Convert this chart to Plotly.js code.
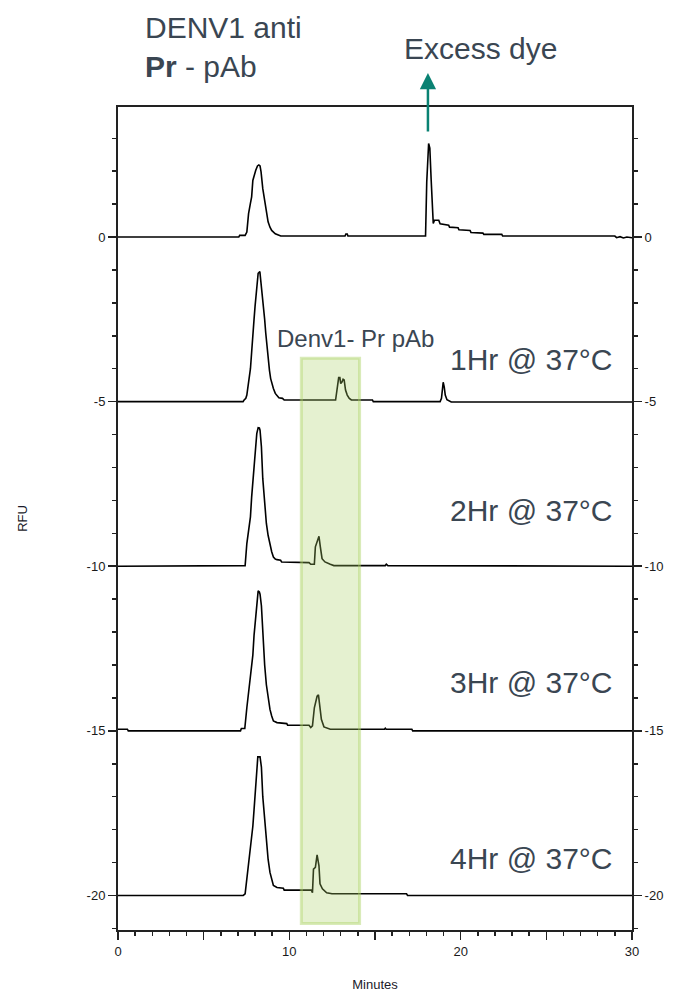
<!DOCTYPE html>
<html>
<head>
<meta charset="utf-8">
<script src="https://cdn.plot.ly/plotly-3.0.1.min.js"></script>
<style>html,body{margin:0;padding:0;background:#fff;}#chart{width:673px;height:992px;}</style>
</head>
<body>
<div id="chart"></div>
<script>
// ---- data ----
const traceNames = ["Control", "1Hr @ 37°C", "2Hr @ 37°C", "3Hr @ 37°C", "4Hr @ 37°C"];
const traceOffsets = [0, -5, -10, -15, -20];

const time0 = [0,7.05,7.1,7.38,7.42,7.52,7.62,7.72,7.8,7.87,7.95,8.04,8.14,8.22,8.29,8.35,8.45,8.56,8.66,8.76,8.87,8.97,9.18,9.38,9.5,13.25,13.3,13.38,13.42,17.95,18.02,18.13,18.2,18.28,18.34,18.4,18.47,18.72,18.8,19.3,19.35,19.85,19.9,20.55,20.6,21.3,21.35,22.4,22.45,29.0,29.1,29.3,29.5,29.7,30];
const rfu0  = [0,0,0.05,0.05,0.05,0.15,0.71,1.0,1.22,1.72,1.9,2.03,2.16,2.19,2.16,1.98,1.47,1.11,0.71,0.46,0.3,0.2,0.1,0.05,0.03,0.03,0.09,0.09,0.03,0.03,1.67,2.84,2.7,1.72,0.71,0.41,0.51,0.51,0.4,0.36,0.3,0.28,0.22,0.2,0.14,0.12,0.08,0.08,0.03,0.03,-0.02,0.01,-0.03,0.0,-0.02];

const time1 = [0,7.3,7.35,7.46,7.52,7.62,7.73,7.8,7.87,7.94,8.0,8.1,8.18,8.28,8.33,8.4,8.5,8.56,8.62,8.7,8.76,8.84,8.91,9.0,9.07,9.18,9.28,9.39,9.6,9.7,12.7,12.8,12.88,12.95,13.0,13.08,13.14,13.2,13.28,13.38,13.5,13.62,14.85,14.9,18.8,18.88,18.93,18.98,19.04,19.1,19.2,19.35,19.45,30];
const rfu1  = [0,0,0.04,0.1,0.2,0.6,1.0,1.5,1.9,2.5,2.9,3.5,3.9,3.95,3.7,3.5,3.0,2.5,2.1,1.6,1.3,0.95,0.7,0.5,0.4,0.25,0.2,0.12,0.1,0.05,0.05,0.45,0.73,0.73,0.55,0.6,0.68,0.66,0.35,0.2,0.1,0.05,0.05,0.0,0,0.1,0.45,0.59,0.45,0.2,0.06,0.02,-0.01,-0.01];

const time2 = [0,7.38,7.42,7.52,7.62,7.73,7.8,7.87,7.94,8.0,8.1,8.18,8.25,8.29,8.37,8.45,8.5,8.56,8.66,8.76,8.87,8.97,9.07,9.18,9.28,9.49,9.55,10.0,10.05,11.15,11.25,11.46,11.52,11.6,11.66,11.73,11.81,11.91,12.08,12.25,12.39,12.6,15.6,15.66,15.75,30];
const rfu2  = [0,0,0.02,0.69,1.1,1.5,2.1,2.5,3.0,3.47,4.03,4.21,4.2,4.13,3.63,2.66,2.3,1.9,1.3,0.94,0.64,0.44,0.28,0.22,0.2,0.18,0.13,0.13,0.11,0.11,0.06,0.06,0.59,0.7,0.84,0.91,0.59,0.23,0.13,0.08,0.06,0.02,0.02,0.06,0.02,0];

const time3 = [0,0.55,0.6,7.15,7.2,7.4,7.52,7.62,7.73,7.8,7.87,7.94,8.0,8.1,8.18,8.25,8.29,8.37,8.45,8.56,8.66,8.76,8.87,8.97,9.07,9.28,9.85,9.9,11.15,11.25,11.35,11.46,11.55,11.62,11.7,11.79,11.87,12.02,12.2,12.39,15.55,15.6,15.65,17.15,17.2,30];
const rfu3  = [0.05,0.05,0,0,0.07,0.07,0.7,1.2,1.7,2.0,2.3,2.9,3.3,4.0,4.25,4.22,4.15,3.8,2.9,2.0,1.4,1.0,0.65,0.45,0.3,0.25,0.22,0.17,0.17,0.1,0.15,0.7,0.9,1.05,1.09,0.75,0.35,0.12,0.08,0.05,0.05,0.08,0.05,0.05,0,0];

const time4 = [0,7.31,7.42,7.52,7.62,7.73,7.8,7.87,7.94,8.0,8.1,8.16,8.29,8.37,8.45,8.56,8.66,8.76,8.87,8.97,9.07,9.28,9.65,9.7,11.29,11.35,11.41,11.52,11.57,11.62,11.73,11.79,11.93,12.18,12.49,16.84,16.9,30];
const rfu4  = [0,0,0.05,0.5,1.1,1.6,1.9,2.1,2.6,3.0,3.9,4.21,4.21,3.9,3.0,2.3,1.6,1.1,0.7,0.45,0.3,0.24,0.22,0.16,0.16,0.08,0.8,0.85,1.0,1.23,0.9,0.35,0.2,0.08,0.05,0.05,0,0];

const xTickVals = [0, 5, 10, 15, 20, 25, 30];
const xTickText = ["0", "", "10", "", "20", "", "30"];
const yTickVals = [-20, -15, -10, -5, 0];
const yTickText = ["-20", "-15", "-10", "-5", "0"];

const highlightRange = {x0: 10.7, x1: 14.1, y0: -20.85, y1: -3.68};

// ---- build ----
const times = [time0, time1, time2, time3, time4];
const rfus = [rfu0, rfu1, rfu2, rfu3, rfu4];
const traces = times.map((t, i) => ({
  type: 'scatter', mode: 'lines', name: traceNames[i],
  x: t, y: rfus[i].map(v => v + traceOffsets[i]),
  line: {color: '#000', width: 1.6}, hoverinfo: 'skip', showlegend: false
}));
traces.push({type: 'scatter', mode: 'lines', x: [], y: [], yaxis: 'y2', showlegend: false, hoverinfo: 'skip'});

const tickFont = {family: 'Liberation Sans, Arial, sans-serif', size: 13, color: '#1a1a1a'};
const txtFont = (s) => ({family: 'Liberation Sans, Arial, sans-serif', size: s, color: '#3a4652'});
const axisCommon = {
  showgrid: false, zeroline: false, showline: true, linecolor: '#222', linewidth: 2,
  ticks: 'outside', ticklen: 8, tickwidth: 1.5, tickcolor: '#222', tickfont: tickFont,
};
const yRange = [-21.05, 3.95];

const layout = {
  width: 673, height: 992,
  margin: {l: 118, r: 41, t: 107, b: 62},
  paper_bgcolor: '#fff', plot_bgcolor: '#fff',
  showlegend: false,
  xaxis: Object.assign({}, axisCommon, {
    range: [0, 30], mirror: true, tickmode: 'array', tickvals: xTickVals, ticktext: xTickText,
    minor: {dtick: 1, ticklen: 4, tickwidth: 1.5, tickcolor: '#222', ticks: 'outside', showgrid: false},
    title: {text: 'Minutes', font: {family: 'Liberation Sans, Arial, sans-serif', size: 13, color: '#1a1a2a'}, standoff: 22}
  }),
  yaxis: Object.assign({}, axisCommon, {
    range: yRange, tickmode: 'array', tickvals: yTickVals, ticktext: yTickText,
    minor: {dtick: 1, ticklen: 4, tickwidth: 1.5, tickcolor: '#222', ticks: 'outside', showgrid: false},
    title: {text: 'RFU', font: {family: 'Liberation Sans, Arial, sans-serif', size: 13, color: '#1a1a2a'}, standoff: 56}
  }),
  yaxis2: Object.assign({}, axisCommon, {
    range: yRange, overlaying: 'y', side: 'right', tickmode: 'array', tickvals: yTickVals, ticktext: yTickText,
    minor: {dtick: 1, ticklen: 4, tickwidth: 1.5, tickcolor: '#222', ticks: 'outside', showgrid: false}
  }),
  shapes: [{
    type: 'rect', xref: 'x', yref: 'y', layer: 'above',
    x0: highlightRange.x0, x1: highlightRange.x1, y0: highlightRange.y0, y1: highlightRange.y1,
    fillcolor: 'rgba(170,210,100,0.3)', line: {color: 'rgba(170,210,100,0.45)', width: 3}
  }],
  annotations: [
    {xref: 'paper', yref: 'paper', x: 0.0486, y: 1.0735, xanchor: 'left', yanchor: 'middle', align: 'left',
     text: 'DENV1 anti<br><b>Pr</b> - pAb', showarrow: false, font: txtFont(30)},
    {xref: 'paper', yref: 'paper', x: 0.5525, y: 1.0711, xanchor: 'left', yanchor: 'middle',
     text: 'Excess dye', showarrow: false, font: txtFont(30)},
    {xref: 'x', yref: 'paper', x: 18.09, y: 1.0413, text: '', showarrow: true, arrowhead: 2,
     arrowsize: 1.3, arrowwidth: 2.5, arrowcolor: '#0a8273', ax: 0, ay: 60, standoff: 0},
    {xref: 'paper', yref: 'paper', x: 0.3054, y: 0.7185, xanchor: 'left', yanchor: 'middle',
     text: 'Denv1- Pr pAb', showarrow: false, font: txtFont(24)},
    {xref: 'paper', yref: 'paper', x: 0.642, y: 0.6932, xanchor: 'left', yanchor: 'middle',
     text: '1Hr @ 37°C', showarrow: false, font: txtFont(30)},
    {xref: 'paper', yref: 'paper', x: 0.642, y: 0.5097, xanchor: 'left', yanchor: 'middle',
     text: '2Hr @ 37°C', showarrow: false, font: txtFont(30)},
    {xref: 'paper', yref: 'paper', x: 0.642, y: 0.3007, xanchor: 'left', yanchor: 'middle',
     text: '3Hr @ 37°C', showarrow: false, font: txtFont(30)},
    {xref: 'paper', yref: 'paper', x: 0.642, y: 0.0869, xanchor: 'left', yanchor: 'middle',
     text: '4Hr @ 37°C', showarrow: false, font: txtFont(30)}
  ]
};

Plotly.newPlot('chart', traces, layout, {displayModeBar: false, staticPlot: true});
</script>
</body>
</html>
